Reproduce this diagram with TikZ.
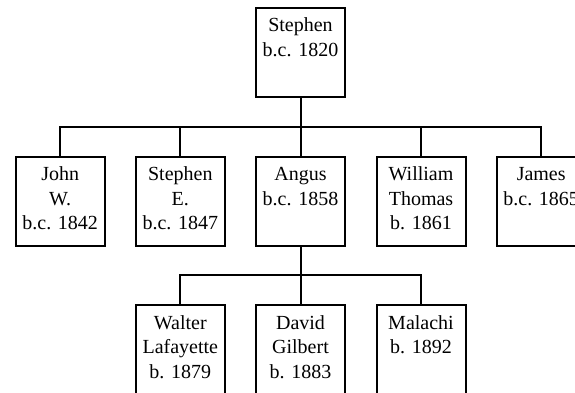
\documentclass[tikz,border=0pt]{standalone}
\usepackage{fontspec}
\setmainfont{Liberation Serif}
\begin{document}
\begin{tikzpicture}[x=1pt,y=-1pt,
  person/.style={draw,line width=2pt,minimum width=89pt,minimum height=89pt,inner sep=0pt},
  txt/.style={anchor=base,align=center,inner sep=0pt,font=\fontsize{20}{24.6}\selectfont},
  link/.style={line width=2pt}]
\useasboundingbox (0,0) rectangle (575,393);
\clip (0,0) rectangle (575,393);
% boxes
\node[person] (stephen) at (300.5,52.2) {};
\node[person] (john) at (60.2,201) {};
\node[person] (stephenE) at (180.3,201) {};
\node[person] (angus) at (300.5,201) {};
\node[person] (william) at (421,201) {};
\node[person] (james) at (541.2,201) {};
\node[person] (walter) at (180.3,349.5) {};
\node[person] (david) at (300.5,349.5) {};
\node[person] (malachi) at (421,349.5) {};
% texts (base anchor = baseline of last line)
\node[txt] (tstephen) at ([yshift=-49.6pt]stephen.north) {Stephen\\b.c. 1820};
\node[txt] (tjohn) at ([yshift=-74.2pt]john.north) {John\\W.\\b.c. 1842};
\node[txt] (tstephenE) at ([yshift=-74.2pt]stephenE.north) {Stephen\\E.\\b.c. 1847};
\node[txt] (tangus) at ([yshift=-49.6pt]angus.north) {Angus\\b.c. 1858};
\node[txt] (twilliam) at ([yshift=-74.2pt]william.north) {William\\Thomas\\b. 1861};
\node[txt] (tjames) at ([yshift=-49.6pt]james.north) {James\\b.c. 1865};
\node[txt] (twalter) at ([yshift=-74.2pt]walter.north) {Walter\\Lafayette\\b. 1879};
\node[txt] (tdavid) at ([yshift=-74.2pt]david.north) {David\\Gilbert\\b. 1883};
\node[txt] (tmalachi) at ([yshift=-49.6pt]malachi.north) {Malachi\\b. 1892};
% connectors
\coordinate (bus1) at (300.5,126.7);
\coordinate (bus2) at (300.5,275);
\draw[link] (stephen.south) -- (bus1);
\foreach \c in {john,stephenE,angus,william,james}
  \draw[link] (\c.north) |- (bus1);
\draw[link] (angus.south) -- (bus2);
\foreach \c in {walter,david,malachi}
  \draw[link] (\c.north) |- (bus2);
\end{tikzpicture}
\end{document}
